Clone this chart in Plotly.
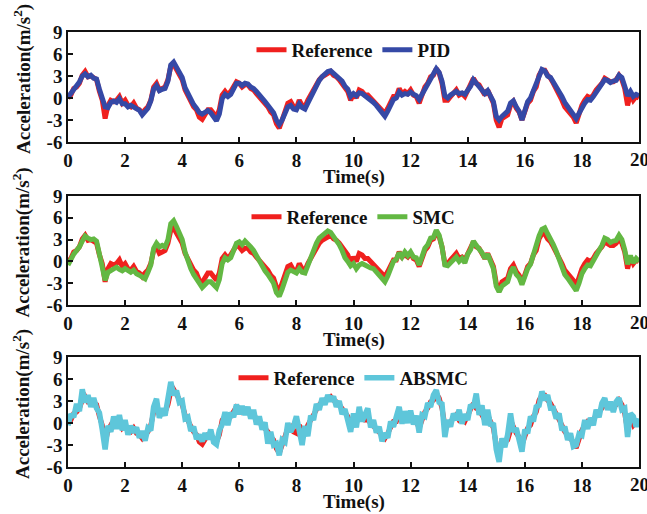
import plotly.graph_objects as go
from plotly.subplots import make_subplots

# Time base: 0 to 20 s in 0.1 s steps
time_s = [round(i * 0.1, 1) for i in range(201)]

# Reference acceleration (m/s^2)
reference = [
    0.0, 0.4, 1.3, 1.5, 2.0, 3.1, 3.6, 2.9, 3.0, 2.8,
    2.5, 0.9, -0.3, -2.8, -1.0, -0.3, -0.5, -0.3, 0.2, -0.7,
    -0.3, -1.0, -1.2, -0.7, -1.4, -1.6, -2.1, -1.6, -1.2, -0.3,
    1.5, 2.0, 1.1, 1.3, 1.5, 2.5, 4.3, 4.6, 4.0, 3.4,
    2.5, 1.1, 0.2, -0.5, -1.2, -1.6, -2.6, -2.9, -2.1, -1.6,
    -1.6, -2.1, -2.6, -1.6, 0.4, 0.9, 0.4, 0.9, 1.5, 2.2,
    2.0, 1.5, 1.8, 1.8, 1.3, 1.1, 0.6, 0.2, -0.3, -0.7,
    -1.2, -1.9, -2.3, -3.5, -4.1, -3.0, -1.9, -0.7, -0.5, -1.2,
    -1.4, -0.3, -1.0, -1.2, -0.3, 0.4, 1.1, 2.0, 2.5, 2.9,
    3.1, 3.4, 3.6, 3.1, 2.9, 2.5, 2.0, 1.3, 0.9, -0.3,
    0.6, 0.0, 1.1, 0.9, 0.4, 0.4, 0.0, -0.3, -0.7, -1.2,
    -1.6, -2.1, -1.4, -0.5, 0.2, 0.2, 1.3, 0.6, 0.9, 0.6,
    1.1, 0.4, 0.2, -0.7, 0.4, 1.5, 2.0, 2.9, 3.1, 4.0,
    3.4, 2.0, -0.3, -0.3, 0.2, 0.6, 1.1, 0.4, 0.6, 0.2,
    1.1, 1.8, 2.7, 2.0, 1.8, 1.1, 0.4, 1.1, 0.2, -0.7,
    -3.0, -4.0, -2.8, -2.6, -2.3, -1.0, -0.5, -1.4, -1.9, -3.0,
    -1.6, -0.7, -0.3, 0.9, 1.5, 3.1, 3.8, 3.8, 3.1, 2.7,
    2.0, 1.3, 0.6, -0.3, -1.2, -1.6, -2.1, -2.6, -3.4, -2.1,
    -1.0, -0.3, 0.2, 0.0, 0.4, 1.1, 1.5, 2.0, 2.7, 2.5,
    2.2, 2.2, 2.5, 3.1, 2.5, 1.3, -1.0, 0.6, -0.3, 0.2,
    0.0,
]

# PID controller response
pid = [
    0.1, 0.6, 1.2, 1.6, 2.2, 3.0, 3.3, 2.9, 3.1, 2.7,
    2.6, 1.2, 0.2, -1.2, -1.3, -0.6, -0.4, -0.6, -0.1, -0.8,
    -0.8, -1.2, -1.0, -1.2, -1.5, -1.7, -2.3, -1.9, -1.4, -0.4,
    1.2, 1.7, 1.0, 1.2, 1.3, 2.3, 4.5, 4.9, 4.1, 3.6,
    2.8, 1.4, 0.5, -0.2, -0.9, -1.4, -2.0, -2.2, -2.0, -1.7,
    -2.0, -2.6, -3.1, -2.2, -0.1, 0.5, 0.2, 0.5, 1.2, 2.0,
    2.0, 1.7, 2.0, 1.9, 1.5, 1.3, 0.9, 0.5, 0.0, -0.5,
    -1.0, -1.6, -2.0, -3.0, -3.6, -3.0, -2.1, -1.2, -1.0, -1.5,
    -1.6, -0.8, -1.3, -1.5, -0.7, 0.1, 0.9, 1.8, 2.4, 2.9,
    3.3, 3.6, 3.7, 3.3, 3.1, 2.7, 2.3, 1.6, 1.2, 0.2,
    0.6, 0.3, 0.7, 0.6, 0.3, 0.2, -0.2, -0.6, -1.0, -1.5,
    -2.0, -2.5, -1.8, -0.8, -0.2, 0.0, 0.8, 0.4, 0.6, 0.5,
    0.8, 0.5, 0.3, -0.2, 0.5, 1.4, 2.0, 2.8, 3.2, 4.0,
    3.5, 2.3, 0.3, 0.0, 0.4, 0.7, 0.9, 0.6, 0.7, 0.5,
    1.0, 1.6, 2.5, 2.0, 1.6, 1.2, 0.6, 1.0, 0.4, -0.5,
    -2.5, -3.0, -2.5, -2.2, -1.8, -0.7, -0.4, -1.2, -1.8, -3.0,
    -1.6, -0.5, 0.0, 1.1, 1.8, 3.3, 3.9, 3.7, 3.0, 2.8,
    2.2, 1.6, 1.0, 0.2, -0.6, -1.1, -1.6, -2.2, -2.8, -2.1,
    -1.2, -0.7, -0.2, -0.3, 0.2, 0.8, 1.2, 1.8, 2.5, 2.4,
    2.1, 2.3, 2.4, 3.1, 2.8, 1.6, 0.3, 0.9, 0.2, 0.5,
    0.3,
]

# SMC controller response
smc = [
    -0.5, 0.3, 1.0, 1.5, 2.0, 2.8, 3.5, 3.2, 3.0, 3.1,
    2.8, 1.0, -1.0, -2.6, -1.5, -1.2, -1.0, -0.8, -1.1, -1.3,
    -1.0, -1.3, -1.5, -1.2, -1.7, -1.9, -2.2, -2.4, -1.5, -0.5,
    1.8, 2.5, 2.0, 2.2, 2.0, 3.0, 5.2, 5.6, 4.8, 4.0,
    3.0, 1.3, 0.0, -1.0, -1.8, -2.3, -3.0, -3.6, -3.2, -2.8,
    -2.8, -3.2, -3.6, -2.5, -0.3, 0.5, 0.2, 0.5, 1.5, 2.5,
    2.7, 2.3, 2.8, 2.5, 2.0, 1.5, 0.8, 0.0, -0.8, -1.3,
    -1.8, -2.4, -3.0, -4.3, -4.8, -3.8, -2.5, -1.5, -1.2, -1.5,
    -1.6, -1.0, -1.5, -1.6, -0.5, 0.5, 1.3, 2.5, 3.2, 3.6,
    4.0, 4.2, 4.0, 3.5, 3.0, 2.3, 1.5, 0.5, 0.0, -0.6,
    -0.3, -1.0, -0.5, -0.3, -0.5, -0.8, -0.9, -1.0, -1.5, -1.8,
    -2.3, -2.8, -2.0, -1.0, 0.0, 0.3, 1.2, 0.6, 1.3, 0.8,
    1.3, 0.6, 0.5, -0.5, 0.6, 1.8, 2.3, 3.2, 3.3, 4.3,
    3.6, 2.0, -0.5, -0.6, -0.2, 0.2, 0.6, 0.0, 0.4, -0.2,
    1.0, 1.6, 2.8, 2.2, 1.8, 1.2, 0.4, 1.0, 0.0, -1.0,
    -3.4, -4.2, -3.4, -3.0, -2.8, -1.5, -0.8, -1.8, -2.2, -3.2,
    -2.0, -1.0, -0.4, 1.0, 1.8, 3.5, 4.4, 4.6, 3.8, 3.2,
    2.3, 1.4, 0.4, -0.8, -1.8, -2.3, -2.8, -3.3, -4.0, -3.0,
    -1.7, -1.0, -0.5, -0.6, 0.0, 0.8, 1.5, 2.2, 3.2, 3.0,
    2.6, 2.8, 2.9, 3.6, 3.0, 1.6, -0.4, 0.8, -0.2, 0.4,
    0.0,
]

# ABSMC controller response
absmc = [
    -0.3, 1.2, 0.8, 2.6, 1.6, 4.6, 2.8, 3.8, 2.2, 3.4,
    2.0, 1.4, -0.9, -3.6, -0.4, -1.2, 0.9, -0.8, 1.1, -1.0,
    0.4, -1.6, -0.4, -1.3, -0.6, -2.0, -1.1, -2.4, -0.7, -1.0,
    2.2, 3.3, 0.7, 2.0, 1.0, 3.2, 5.6, 3.8, 4.4, 2.8,
    3.0, 0.6, 0.8, -1.1, -0.5, -2.2, -1.6, -2.5, -1.4, -2.2,
    -0.9, -2.6, -2.9, -1.0, -0.2, 1.5, -0.3, 1.4, 0.8, 2.5,
    1.2, 2.3, 1.1, 2.2, 0.6, 1.8, -0.2, 0.9, -0.9, 0.1,
    -2.8, -1.2, -3.0, -2.8, -4.4, -2.3, -2.6, 0.0, -1.2, -0.4,
    0.9, -1.0, -3.0, -0.4, -1.8, 1.0, 0.4, 2.6, 1.8, 3.4,
    2.5, 3.8, 3.0, 3.6, 2.2, 3.0, 1.2, 1.9, 0.2, -1.2,
    1.3, -0.6, 2.2, 0.2, 1.1, 2.0, -0.6, 0.4, -1.3, -0.5,
    -2.5, -1.4, -2.0, 0.2, -0.5, 0.9, 2.2, -0.1, 1.6, 0.0,
    1.7, -0.2, 1.0, -1.3, 1.1, 0.9, 2.7, 2.2, 3.8, 4.5,
    2.8, 2.6, -1.9, 0.4, -0.5, 1.3, 0.4, 1.8, -0.1, 1.2,
    0.4, 2.5, 2.1, 4.0, 1.1, 2.4, -0.3, 1.8, -0.4, 0.0,
    -3.6, -5.3, -2.1, -3.3, -1.6, 1.3, -1.2, -0.7, -2.6, -3.9,
    -0.9, -1.4, 0.9, 0.2, 2.2, 2.4, 4.3, 3.1, 3.8, 2.0,
    2.0, 0.6, 1.3, -1.0, -0.5, -2.3, -1.4, -3.2, -3.0, -1.5,
    -1.7, 0.4, -0.8, 0.7, -0.3, 1.8, 0.8, 2.7, 3.4, 1.8,
    2.9, 1.5, 2.9, 3.4, 1.8, 2.0, -1.9, 1.3, 0.9, -0.5,
    0.6,
]

controllers = [("PID", pid, "#3549a6", 5),
               ("SMC", smc, "#63b843", 5),
               ("ABSMC", absmc, "#5ec6da", 5.5)]
ref_color = "#f0201e"

x_ticks = list(range(0, 21, 2))
y_ticks = [-6, -3, 0, 3, 6, 9]
x_title = "Time(s)"
y_title = "Acceleration(m/s<sup>2</sup>)"

FONT = "Liberation Serif, Times New Roman, serif"

fig = make_subplots(rows=3, cols=1)

domains = [(0.7471, 1.0), (0.3724, 0.6230), (0.0, 0.2529)]
legend_y = [0.9586, 0.5747, 0.2046]
legend_names = ["legend", "legend2", "legend3"]

for i, (name, values, color, width) in enumerate(controllers):
    row = i + 1
    fig.add_trace(go.Scatter(x=time_s, y=reference, mode="lines", name="Reference",
                             line=dict(color=ref_color, width=5),
                             legend=legend_names[i]), row=row, col=1)
    fig.add_trace(go.Scatter(x=time_s, y=values, mode="lines", name=name,
                             line=dict(color=color, width=width),
                             legend=legend_names[i]), row=row, col=1)

tick_font = dict(family=FONT, size=19, color="#111111", weight="bold")
title_font = dict(family=FONT, size=19, color="#111111", weight="bold")

# the last x tick label sits on the page edge and is drawn separately so it
# stays centred on its tick and is simply cut by the page border
inner_ticks = x_ticks[:-1]

for i in range(3):
    xa = "xaxis" if i == 0 else f"xaxis{i+1}"
    ya = "yaxis" if i == 0 else f"yaxis{i+1}"
    xref = "x" if i == 0 else f"x{i+1}"
    yref = "y" if i == 0 else f"y{i+1}"
    fig.layout[xa].update(
        range=[0, 20], tickvals=x_ticks,
        ticktext=[str(v) for v in inner_ticks] + [""],
        ticks="inside", ticklen=5, tickwidth=1.5, tickcolor="#111111",
        showline=True, mirror=True, linecolor="#111111", linewidth=1.5,
        showgrid=False, zeroline=False, tickfont=tick_font,
    )
    fig.layout[ya].update(
        domain=list(domains[i]), range=[-6, 9], tickvals=y_ticks,
        ticktext=[str(v) for v in y_ticks],
        ticks="inside", ticklen=5, tickwidth=1.5, tickcolor="#111111",
        showline=True, mirror=True, linecolor="#111111", linewidth=1.5,
        showgrid=False, zeroline=False, tickfont=tick_font,
    )
    fig.add_annotation(text=str(x_ticks[-1]), x=x_ticks[-1], xref=xref,
                       y=0, yref=f"{yref} domain", yanchor="middle", yshift=-17,
                       xanchor="center", showarrow=False, font=tick_font)
    fig.add_annotation(text=x_title, x=0.5, xref=f"{xref} domain",
                       y=0, yref=f"{yref} domain", yanchor="middle", yshift=-35,
                       showarrow=False, font=tick_font)
    fig.add_annotation(text=y_title, textangle=-90, x=0, xref=f"{xref} domain",
                       xanchor="center", xshift=-46,
                       y=0.5, yref=f"{yref} domain", yanchor="middle", yshift=8,
                       showarrow=False, font=title_font)

legend_style = dict(orientation="h", x=0.5, xanchor="center", yanchor="middle",
                    bgcolor="rgba(0,0,0,0)", borderwidth=0,
                    font=dict(family=FONT, size=19, color="#111111", weight="bold"))
fig.update_layout(
    width=647, height=514,
    margin=dict(l=68, r=6, t=32, b=47),
    paper_bgcolor="white", plot_bgcolor="white",
    showlegend=True,
    legend=dict(y=legend_y[0], **legend_style),
    legend2=dict(y=legend_y[1], **legend_style),
    legend3=dict(y=legend_y[2], **legend_style),
)

fig.write_html("out.html")
